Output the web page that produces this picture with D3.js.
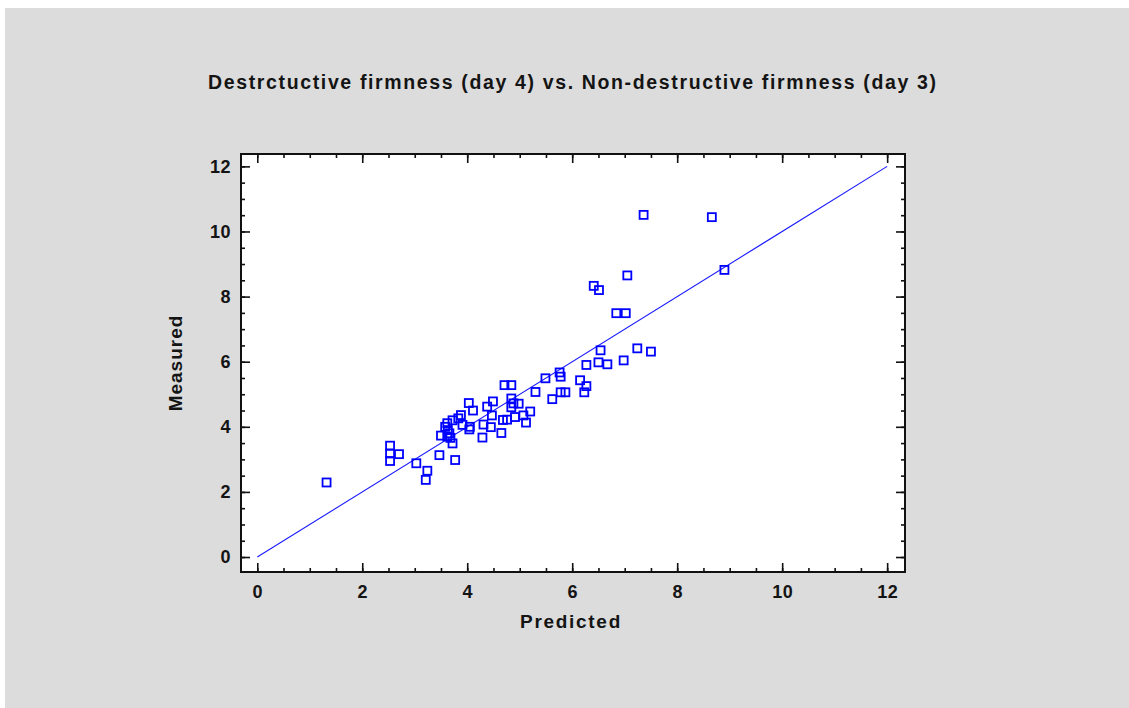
<!DOCTYPE html>
<html>
<head>
<meta charset="utf-8">
<script src="https://cdn.jsdelivr.net/npm/d3@7/dist/d3.min.js"></script>
<style>
  html, body { margin: 0; padding: 0; background: #ffffff; }
  svg { display: block; }
  text { font-family: "Liberation Sans", Arial, sans-serif; font-weight: bold; fill: #141414; }
</style>
</head>
<body>
<svg id="chart" width="1129" height="708"></svg>
<script>
// Predicted vs. measured firmness values
const predicted = [
  7.36, 8.66, 8.90, 7.05, 6.41, 6.51, 6.84, 7.02, 6.54, 7.24,
  7.50, 6.98, 6.50, 6.67, 6.27, 5.76, 5.78, 5.49, 6.15, 6.27,
  6.23, 5.87, 5.78, 5.62, 5.30, 4.71, 4.84, 4.84, 4.88, 4.98,
  4.84, 5.20, 5.07, 4.91, 4.68, 4.76, 5.12, 4.49, 4.38, 4.47,
  4.31, 4.45, 4.65, 4.29, 4.03, 4.11, 3.88, 4.05, 4.04, 3.91,
  3.83, 3.72, 3.62, 3.58, 3.66, 3.62, 3.50, 3.72, 3.63, 3.68,
  3.47, 3.77, 1.32, 2.53, 2.53, 2.70, 2.53, 3.03, 3.24, 3.21
];
const measured = [
  10.51, 10.44, 8.82, 8.65, 8.33, 8.20, 7.49, 7.49, 6.35, 6.41,
  6.31, 6.04, 5.98, 5.92, 5.90, 5.67, 5.54, 5.49, 5.43, 5.25,
  5.06, 5.06, 5.06, 4.85, 5.07, 5.28, 5.28, 4.87, 4.72, 4.71,
  4.60, 4.47, 4.35, 4.30, 4.21, 4.22, 4.13, 4.78, 4.62, 4.35,
  4.07, 3.99, 3.81, 3.67, 4.73, 4.50, 4.36, 4.00, 3.92, 4.06,
  4.26, 4.20, 4.11, 4.00, 3.80, 3.70, 3.73, 3.49, 3.90, 3.66,
  3.13, 2.98, 2.29, 3.42, 3.18, 3.16, 2.95, 2.88, 2.65, 2.37
];
// Reference line Measured = Predicted
const lineX = [0, 12];
const lineY = [0, 12];

const xMajor = [0, 2, 4, 6, 8, 10, 12];
const yMajor = [0, 2, 4, 6, 8, 10, 12];
const minorStep = 0.5;

const titleText = "Destrctuctive firmness (day 4) vs. Non-destructive firmness (day 3)";
const xTitle = "Predicted";
const yTitle = "Measured";

const svg = d3.select("#chart");
const W = 1129, H = 708;

// Grey panel
svg.append("rect").attr("x", 5).attr("y", 8).attr("width", W - 5).attr("height", H - 8).attr("fill", "#dcdcdc");

const plot = { left: 241, right: 905, top: 154, bottom: 572 };
const x = d3.scaleLinear().domain([-0.31, 12.34]).range([plot.left, plot.right]);
const y = d3.scaleLinear().domain([-0.46, 12.38]).range([plot.bottom, plot.top]);

// Plot background
svg.append("rect")
  .attr("x", plot.left).attr("y", plot.top)
  .attr("width", plot.right - plot.left).attr("height", plot.bottom - plot.top)
  .attr("fill", "#ffffff");

const minors = d3.range(0, 12.0001, minorStep);

function styleAxis(g) {
  g.select(".domain").remove();
  g.selectAll(".tick line").attr("stroke", "#111").attr("stroke-width", 1.6);
}

// Minor ticks on all sides
svg.append("g").attr("transform", `translate(0,${plot.bottom})`)
  .call(d3.axisBottom(x).tickValues(minors).tickSize(-4).tickFormat("")).call(styleAxis);
svg.append("g").attr("transform", `translate(0,${plot.top})`)
  .call(d3.axisTop(x).tickValues(minors).tickSize(-4).tickFormat("")).call(styleAxis);
svg.append("g").attr("transform", `translate(${plot.left},0)`)
  .call(d3.axisLeft(y).tickValues(minors).tickSize(-4).tickFormat("")).call(styleAxis);
svg.append("g").attr("transform", `translate(${plot.right},0)`)
  .call(d3.axisRight(y).tickValues(minors).tickSize(-4).tickFormat("")).call(styleAxis);

// Major ticks with labels
const xAxis = svg.append("g").attr("transform", `translate(0,${plot.bottom})`)
  .call(d3.axisBottom(x).tickValues(xMajor).tickSize(-9).tickPadding(13).tickFormat(d3.format("d")))
  .call(styleAxis);
svg.append("g").attr("transform", `translate(0,${plot.top})`)
  .call(d3.axisTop(x).tickValues(xMajor).tickSize(-9).tickFormat("")).call(styleAxis);
const yAxis = svg.append("g").attr("transform", `translate(${plot.left},0)`)
  .call(d3.axisLeft(y).tickValues(yMajor).tickSize(-9).tickPadding(10).tickFormat(d3.format("d")))
  .call(styleAxis);
svg.append("g").attr("transform", `translate(${plot.right},0)`)
  .call(d3.axisRight(y).tickValues(yMajor).tickSize(-9).tickFormat("")).call(styleAxis);

[xAxis, yAxis].forEach(g => g.selectAll(".tick text")
  .attr("font-family", "'Liberation Sans', Arial, sans-serif")
  .attr("font-weight", "bold").attr("font-size", 18).attr("fill", "#141414")
  .style("letter-spacing", "0.5px"));

// Frame
svg.append("rect")
  .attr("x", plot.left).attr("y", plot.top)
  .attr("width", plot.right - plot.left).attr("height", plot.bottom - plot.top)
  .attr("fill", "none").attr("stroke", "#111").attr("stroke-width", 2);

// Diagonal reference line
svg.append("path")
  .datum(lineX.map((v, i) => [v, lineY[i]]))
  .attr("d", d3.line().x(d => x(d[0])).y(d => y(d[1])))
  .attr("stroke", "#1a1aff").attr("stroke-width", 1.1).attr("fill", "none");

// Points
const s = 8;
svg.append("g").selectAll("rect")
  .data(predicted.map((p, i) => [p, measured[i]]))
  .join("rect")
  .attr("x", d => x(d[0]) - s / 2)
  .attr("y", d => y(d[1]) - s / 2)
  .attr("width", s).attr("height", s)
  .attr("fill", "none").attr("stroke", "#0000ff").attr("stroke-width", 1.8);

// Titles
svg.append("text")
  .attr("x", 572).attr("y", 89)
  .attr("text-anchor", "middle")
  .attr("font-size", 19.5)
  .attr("textLength", 728).attr("lengthAdjust", "spacing")
  .text(titleText);

svg.append("text")
  .attr("x", 571).attr("y", 628)
  .attr("text-anchor", "middle")
  .attr("font-size", 19)
  .style("letter-spacing", "1.7px")
  .text(xTitle);

svg.append("text")
  .attr("transform", "translate(182,363) rotate(-90)")
  .attr("text-anchor", "middle")
  .attr("font-size", 19)
  .style("letter-spacing", "1px")
  .text(yTitle);
</script>
</body>
</html>
